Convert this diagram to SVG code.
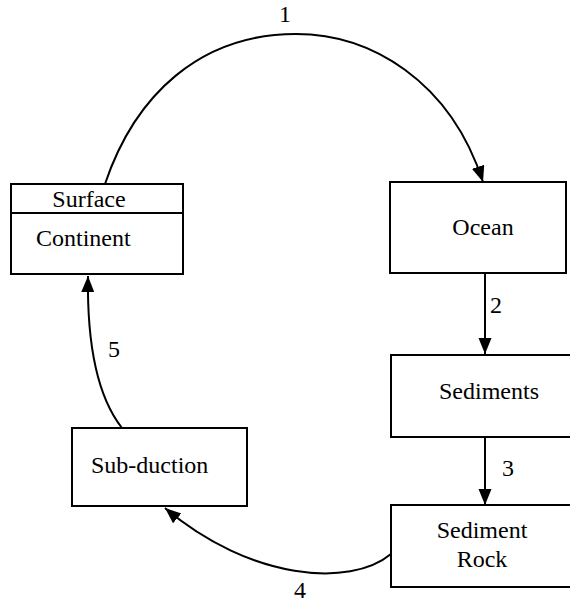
<svg xmlns="http://www.w3.org/2000/svg" width="570" height="602" viewBox="0 0 570 602">
<style>
.box{fill:#fff;stroke:#000;stroke-width:2}
.t{font-family:"Liberation Serif","Times New Roman",serif;font-size:24px;fill:#000}
.c{text-anchor:middle}
.edge{fill:none;stroke:#000;stroke-width:2}
</style>
<defs>
<marker id="ah" markerUnits="userSpaceOnUse" markerWidth="18" markerHeight="14" refX="16" refY="6.5" orient="auto">
<path d="M0,0 L16,6.5 L0,13 z" fill="#000"/>
</marker>
</defs>
<rect width="570" height="602" fill="#fff"/>
<g id="connectors">
<path class="edge" d="M105,184 C135,95 200,34 296,34 C370,34 450,80 483,182" marker-end="url(#ah)"/>
<line class="edge" x1="485" y1="274" x2="485" y2="354" marker-end="url(#ah)"/>
<line class="edge" x1="485" y1="437" x2="485" y2="505" marker-end="url(#ah)"/>
<path class="edge" d="M391,554 C350,588 250,580 165,508" marker-end="url(#ah)"/>
<path class="edge" d="M122,428 C96,395 87,340 88,276" marker-end="url(#ah)"/>
<text class="t c" x="285" y="22">1</text>
<text class="t c" x="496" y="313">2</text>
<text class="t c" x="508" y="476">3</text>
<text class="t c" x="300" y="598">4</text>
<text class="t c" x="114" y="357">5</text>
</g>
<g id="continent">
<rect class="box" x="11" y="184" width="172" height="90"/>
<line x1="11" y1="213" x2="183" y2="213" stroke="#000" stroke-width="2"/>
<text class="t c" x="89" y="207">Surface</text>
<text class="t" x="36" y="246">Continent</text>
</g>
<g id="ocean">
<rect class="box" x="390" y="182" width="176" height="91"/>
<text class="t c" x="483" y="235">Ocean</text>
</g>
<g id="sediments">
<rect class="box" x="391" y="355" width="185" height="82"/>
<text class="t c" x="489" y="399">Sediments</text>
</g>
<g id="sediment-rock">
<rect class="box" x="391" y="505" width="185" height="82"/>
<text class="t c" x="482" y="538">Sediment</text>
<text class="t c" x="482" y="567">Rock</text>
</g>
<g id="subduction">
<rect class="box" x="72" y="428" width="175" height="78"/>
<text class="t" x="91" y="473">Sub-duction</text>
</g>
</svg>
